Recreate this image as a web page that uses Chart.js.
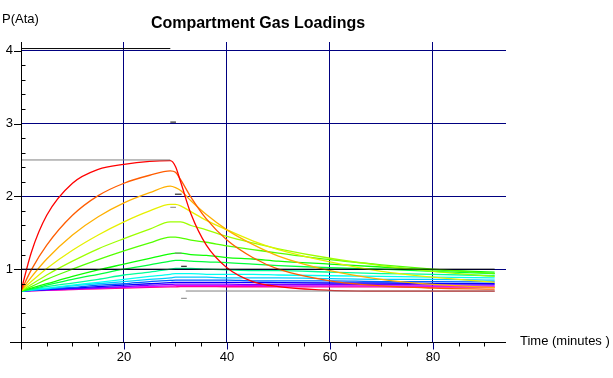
<!DOCTYPE html>
<html>
<head>
<meta charset="utf-8">
<script src="https://cdn.jsdelivr.net/npm/chart.js@4.4.0/dist/chart.umd.min.js"></script>
<style>
  body { margin: 0; background: #fff; }
  #wrap { width: 613px; height: 378px; }
</style>
</head>
<body>
<div id="wrap"><canvas id="gasChart" width="613" height="378"></canvas></div>
<script>
// time axis (minutes)
const times = [0, 2, 5, 10, 15, 20, 25, 29, 30, 31, 33, 36, 40, 45, 50, 60, 70, 80, 92];

// compartment loadings (Ata), fastest to slowest
const comp01 = [0.70, 1.23, 1.74, 2.18, 2.37, 2.44, 2.48, 2.49, 2.41, 2.20, 1.76, 1.33, 1.02, 0.83, 0.76, 0.71, 0.70, 0.70, 0.70];
const comp02 = [0.70, 0.99, 1.33, 1.74, 2.01, 2.18, 2.29, 2.35, 2.33, 2.23, 1.99, 1.69, 1.40, 1.16, 1.00, 0.84, 0.77, 0.74, 0.725];
const comp03 = [0.70, 0.89, 1.14, 1.47, 1.72, 1.91, 2.05, 2.14, 2.12, 2.08, 1.94, 1.75, 1.54, 1.34, 1.18, 0.98, 0.86, 0.79, 0.75];
const comp04 = [0.70, 0.83, 1.01, 1.26, 1.47, 1.65, 1.80, 1.89, 1.89, 1.87, 1.79, 1.67, 1.54, 1.39, 1.27, 1.10, 0.97, 0.89, 0.82];
const comp05 = [0.70, 0.79, 0.92, 1.11, 1.28, 1.42, 1.55, 1.65, 1.65, 1.65, 1.60, 1.54, 1.45, 1.36, 1.28, 1.15, 1.05, 0.97, 0.90];
const comp06 = [0.70, 0.76, 0.86, 1.00, 1.13, 1.25, 1.36, 1.44, 1.44, 1.43, 1.40, 1.37, 1.32, 1.27, 1.22, 1.13, 1.06, 1.00, 0.94];
const comp07 = [0.70, 0.74, 0.80, 0.90, 0.99, 1.07, 1.15, 1.21, 1.22, 1.22, 1.20, 1.19, 1.16, 1.14, 1.11, 1.07, 1.03, 0.99, 0.96];
const comp08 = [0.70, 0.73, 0.78, 0.86, 0.93, 1.00, 1.06, 1.11, 1.12, 1.12, 1.11, 1.10, 1.09, 1.07, 1.05, 1.02, 1.00, 0.97, 0.94];
const comp09 = [0.70, 0.72, 0.76, 0.81, 0.86, 0.92, 0.96, 1.00, 1.01, 1.01, 1.01, 1.00, 0.99, 0.98, 0.98, 0.96, 0.94, 0.93, 0.91];
const comp10 = [0.70, 0.72, 0.74, 0.78, 0.82, 0.86, 0.90, 0.93, 0.94, 0.94, 0.94, 0.93, 0.93, 0.93, 0.92, 0.91, 0.90, 0.89, 0.88];
const comp11 = [0.70, 0.71, 0.73, 0.77, 0.80, 0.83, 0.86, 0.88, 0.89, 0.89, 0.89, 0.89, 0.88, 0.88, 0.88, 0.87, 0.86, 0.86, 0.85];
const comp12 = [0.70, 0.71, 0.73, 0.75, 0.78, 0.80, 0.83, 0.845, 0.85, 0.85, 0.85, 0.85, 0.85, 0.84, 0.84, 0.84, 0.83, 0.83, 0.825];
const comp13 = [0.70, 0.71, 0.72, 0.74, 0.76, 0.78, 0.80, 0.815, 0.82, 0.82, 0.82, 0.82, 0.82, 0.82, 0.815, 0.81, 0.81, 0.805, 0.80];
const comp14 = [0.70, 0.705, 0.715, 0.73, 0.745, 0.76, 0.78, 0.79, 0.795, 0.795, 0.795, 0.795, 0.795, 0.79, 0.79, 0.79, 0.79, 0.785, 0.785];
const comp15 = [0.70, 0.705, 0.713, 0.725, 0.737, 0.75, 0.76, 0.77, 0.773, 0.775, 0.775, 0.775, 0.774, 0.773, 0.772, 0.771, 0.77, 0.768, 0.767];
const comp16 = [0.70, 0.704, 0.71, 0.72, 0.73, 0.74, 0.75, 0.756, 0.758, 0.76, 0.76, 0.76, 0.759, 0.759, 0.758, 0.757, 0.756, 0.755, 0.754];

const compColors = ['#ff0000', '#ff5d00', '#ffb000', '#e6f000', '#9eff00', '#55ff00', '#0dff00', '#00ff3b',
                    '#00ff99', '#00ffee', '#00ccff', '#0060ff', '#0800ff', '#7700ff', '#e500ff', '#ff0080'];

// ambient (black) and inspired (grey) pressure segments: [tStart, tEnd, P]
const ambientSegs = [[0, 29, 4.03], [29, 30.1, 3.02], [29.9, 31.2, 2.03], [31.1, 32.2, 1.04], [0, 92, 1.0]];
const inspiredSegs = [[0, 29, 2.5], [29, 30.1, 1.85], [29.9, 31.2, 1.22], [31.1, 32.2, 0.60], [32, 92, 0.70]];

const xTicks = [20, 40, 60, 80];
const yTicks = [1, 2, 3, 4];

const compartments = [comp01, comp02, comp03, comp04, comp05, comp06, comp07, comp08,
                      comp09, comp10, comp11, comp12, comp13, comp14, comp15, comp16];

const NAVY = '#000080';
const FONT = '"Liberation Sans", Arial, sans-serif';

function segData(segs) {
    const out = [];
    segs.forEach(s => {
        out.push({x: s[0], y: s[2]}, {x: s[1], y: s[2]}, {x: s[1], y: null});
    });
    return out;
}

const datasets = [];
datasets.push({ data: segData(ambientSegs), borderColor: '#000000', borderWidth: 1, tension: 0 });
datasets.push({ data: segData(inspiredSegs), borderColor: '#808080', borderWidth: 1, tension: 0 });
compartments.forEach((vals, i) => {
    datasets.push({
        data: vals.map((v, j) => ({x: times[j], y: v})),
        borderColor: compColors[i],
        borderWidth: 1.3,
        cubicInterpolationMode: 'monotone'
    });
});

// axes, minor ticks and free texts
const decorPlugin = {
    id: 'decor',
    afterDraw(chart) {
        const ctx = chart.ctx;
        const xs = chart.scales.x, ys = chart.scales.y;
        const x0 = Math.round(xs.getPixelForValue(0)) + 0.5;
        const y0 = Math.round(ys.getPixelForValue(0)) + 0.5;
        ctx.save();
        ctx.lineWidth = 1;
        ctx.strokeStyle = '#000';
        ctx.beginPath();
        ctx.moveTo(10, y0); ctx.lineTo(chart.chartArea.right, y0);
        ctx.moveTo(x0, chart.chartArea.top); ctx.lineTo(x0, y0 + 7);
        // minor ticks
        for (let v = 5; v < 94; v += 5) {
            if (v % 20 === 0) continue;
            const px = Math.round(xs.getPixelForValue(v)) + 0.5;
            ctx.moveTo(px, y0); ctx.lineTo(px, y0 + 4);
        }
        for (let k = 1; k <= 20; k++) {
            if (k % 5 === 0) continue;
            const py = Math.round(ys.getPixelForValue(k / 5)) + 0.5;
            ctx.moveTo(x0, py); ctx.lineTo(x0 + 4, py);
        }
        yTicks.forEach(v => {
            const py = Math.round(ys.getPixelForValue(v)) + 0.5;
            ctx.moveTo(14, py); ctx.lineTo(x0, py);
        });
        ctx.stroke();
        ctx.strokeStyle = NAVY;
        ctx.beginPath();
        xTicks.forEach(v => {
            const px = Math.round(xs.getPixelForValue(v)) + 0.5;
            ctx.moveTo(px, y0); ctx.lineTo(px, y0 + 7);
        });
        ctx.stroke();

        ctx.fillStyle = '#000';
        ctx.textBaseline = 'middle';
        ctx.textAlign = 'center';
        ctx.font = 'bold 16px ' + FONT;
        ctx.fillText('Compartment Gas Loadings', 258, 24);
        ctx.textAlign = 'left';
        ctx.font = '13px ' + FONT;
        ctx.fillText('P(Ata)', 2, 19);
        ctx.fillText('Time (minutes )', 520, 341);
        ctx.restore();
    }
};

new Chart(document.getElementById('gasChart'), {
    type: 'line',
    data: { datasets: datasets },
    options: {
        responsive: false,
        animation: false,
        layout: { padding: { left: 0, top: 42, right: 107, bottom: 0 } },
        elements: { point: { radius: 0 } },
        plugins: { legend: { display: false }, tooltip: { enabled: false }, title: { display: false } },
        scales: {
            x: {
                type: 'linear', min: 0, max: 94.2,
                afterFit: s => { s.height = 36; },
                afterBuildTicks: s => { s.ticks = xTicks.map(v => ({value: v})); },
                border: { display: false },
                grid: { color: NAVY, lineWidth: 1, drawTicks: false },
                ticks: { color: '#000', font: { family: FONT, size: 13 }, padding: 8, maxRotation: 0 }
            },
            y: {
                type: 'linear', min: 0, max: 4.12,
                afterFit: s => { s.width = 21; },
                afterBuildTicks: s => { s.ticks = yTicks.map(v => ({value: v})); },
                border: { display: false },
                grid: { color: NAVY, lineWidth: 1, drawTicks: false },
                ticks: { color: '#000', font: { family: FONT, size: 13 }, padding: 8 }
            }
        }
    },
    plugins: [decorPlugin]
});
</script>
</body>
</html>
